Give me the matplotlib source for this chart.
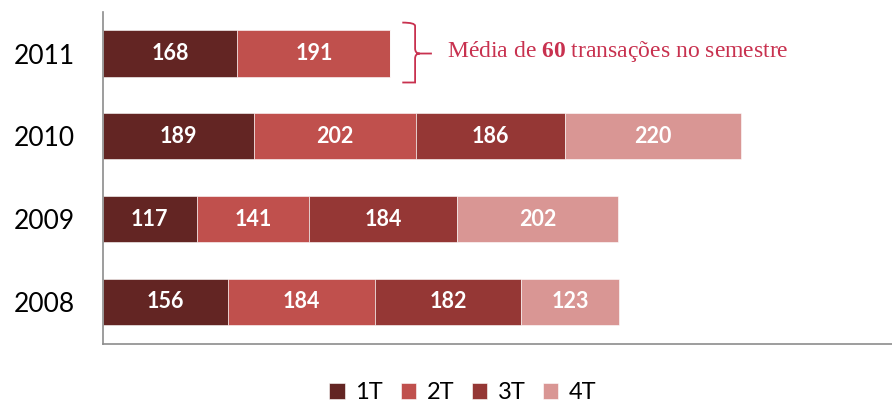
import matplotlib.pyplot as plt
from matplotlib.path import Path
from matplotlib.patches import PathPatch
import numpy as np

years = ["2008", "2009", "2010", "2011"]
quarters = ["1T", "2T", "3T", "4T"]
q1 = [156, 117, 189, 168]
q2 = [184, 141, 202, 191]
q3 = [182, 184, 186, 0]
q4 = [123, 202, 220, 0]
colors = ["#632523", "#C0504D", "#953735", "#D99694"]

plt.rcParams["font.family"] = ["Lato", "DejaVu Sans"]
plt.rcParams["mathtext.fontset"] = "custom"
plt.rcParams["mathtext.rm"] = "Liberation Serif"
plt.rcParams["mathtext.bf"] = "Liberation Serif:bold"

fig = plt.figure(figsize=(8.92, 4.05), dpi=100)
ax = fig.add_axes([0.1155, 0.1506, 0.8845, 0.8194])

y = np.arange(len(years))
left = np.zeros(len(years))
for name, vals, c in zip(quarters, [q1, q2, q3, q4], colors):
    vals = np.array(vals, dtype=float)
    ax.barh(y, vals, left=left, height=0.56, color=c, label=name,
            edgecolor="white", linewidth=0.4)
    for yi, l, v in zip(y, left, vals):
        if v > 0:
            ax.text(l + v / 2, yi, f"{int(v)}", ha="center", va="center",
                    color="white", fontsize=15.5, fontweight="bold")
    left = left + vals

ax.set_xlim(0, 986)
ax.set_ylim(-0.51, 3.5)
ax.set_yticks(y)
ax.set_yticklabels(years, fontsize=19)
ax.set_xticks([])
ax.tick_params(axis="y", length=0, pad=20)
for s in ["top", "right"]:
    ax.spines[s].set_visible(False)
for s in ["left", "bottom"]:
    ax.spines[s].set_color("#8C8C8C")
    ax.spines[s].set_linewidth(1.2)

# curly brace next to 2011
accent = "#C8314F"
x0, xb, xt = 374, 390, 411
yt, ym, yb = 3.374, 3.0, 2.65
verts = [(x0, yt), (xb, yt), (xb, yt - 0.04), (xb, yt - 0.1),
         (xb, ym + 0.06), (xb, ym), (xb + 6, ym), (xt, ym),
         (xb + 6, ym), (xb, ym), (xb, ym - 0.06),
         (xb, yb + 0.1), (xb, yb + 0.04), (xb, yb), (x0, yb)]
codes = [Path.MOVETO, Path.CURVE3, Path.CURVE3, Path.LINETO,
         Path.LINETO, Path.CURVE3, Path.CURVE3, Path.LINETO,
         Path.MOVETO, Path.CURVE3, Path.CURVE3,
         Path.LINETO, Path.CURVE3, Path.CURVE3, Path.LINETO]
ax.add_patch(PathPatch(Path(verts, codes), fill=False, edgecolor=accent,
                       linewidth=1.3, clip_on=False))
ax.text(430, 3.02, "Média de $\\mathbf{60}$ transações no semestre",
        color=accent, fontsize=17, va="center", ha="left",
        family="Liberation Serif")

fig.legend(loc="center", bbox_to_anchor=(0.519, 0.03), ncol=4,
           frameon=False, fontsize=17, handlelength=0.64, handleheight=0.64,
           columnspacing=0.75, handletextpad=0.45)

fig.savefig("out.png", dpi=100)
